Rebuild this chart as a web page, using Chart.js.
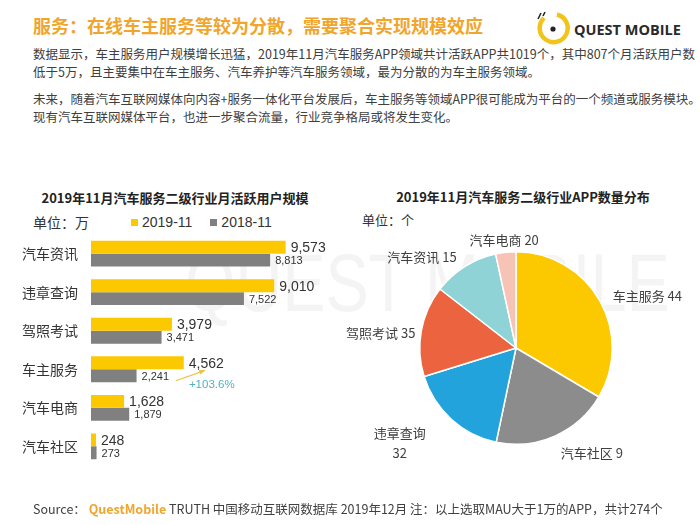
<!DOCTYPE html>
<html>
<head>
<meta charset="utf-8">
<script src="https://cdn.jsdelivr.net/npm/chart.js@4.4.0/dist/chart.umd.min.js"></script>
<style>
  body { margin: 0; background: #fff; }
  #page { position: relative; width: 700px; height: 525px; overflow: hidden; font-family: "Noto Sans CJK SC", sans-serif; color: #333; }
  .abs { position: absolute; white-space: nowrap; line-height: 1; }
  .para { position: absolute; left: 33px; font-size: 12.5px; line-height: 18px; color: #404040; white-space: nowrap; }
  .ctitle { position: absolute; font-size: 13px; font-weight: bold; color: #222; transform: translateX(-50%); white-space: nowrap; line-height: 1; }
  canvas { position: absolute; }
</style>
</head>
<body>
<div id="page">
  <!-- faint watermark -->
  <div class="abs" style="left:185px;top:242px;font-family:'Liberation Sans';font-size:82px;color:#f4f4f4;transform:scaleX(0.79);transform-origin:left top;">QUEST MOBILE</div>

  <div class="abs" style="left:33px;top:16px;font-size:18px;font-weight:bold;color:#f0a52c;">服务：在线车主服务等较为分散，需要聚合实现规模效应</div>

  <svg class="abs" style="left:535px;top:10px" width="36" height="36" viewBox="0 0 36 36">
    <path d="M 9 8 A 14 14 0 1 0 22 4.5" fill="none" stroke="#f2c31a" stroke-width="4.5"/>
    <circle cx="18" cy="19" r="2.6" fill="#222"/>
    <line x1="3" y1="9" x2="6" y2="3" stroke="#222" stroke-width="1.6"/>
    <line x1="8" y1="6" x2="10" y2="2" stroke="#222" stroke-width="1.6"/>
  </svg>
  <div class="abs" style="left:574px;top:23px;font-family:'Open Sans';font-size:14.5px;font-weight:bold;color:#2a2a2a;">QUEST MOBILE</div>

  <div class="para" style="top:45px;">数据显示，车主服务用户规模增长迅猛，2019年11月汽车服务APP领域共计活跃APP共1019个，其中807个月活跃用户数<br>低于5万，且主要集中在车主服务、汽车养护等汽车服务领域，最为分散的为车主服务领域。</div>
  <div class="para" style="top:90px;">未来，随着汽车互联网媒体向内容+服务一体化平台发展后，车主服务等领域APP很可能成为平台的一个频道或服务模块。<br>现有汽车互联网媒体平台，也进一步聚合流量，行业竞争格局或将发生变化。</div>

  <div class="ctitle" style="left:175px;top:191px;">2019年11月汽车服务二级行业月活跃用户规模</div>
  <div class="abs" style="left:33px;top:215px;font-size:14px;color:#333;">单位：万</div>
  <div id="barLegend" class="abs" style="left:131px;top:215px;font-family:'Liberation Sans';font-size:14px;color:#333;"></div>

  <div class="ctitle" style="left:523px;top:190px;">2019年11月汽车服务二级行业APP数量分布</div>
  <div class="abs" style="left:362px;top:213px;font-size:13px;color:#333;">单位：个</div>

  <canvas id="barChart" width="350" height="248" style="left:0;top:226px;"></canvas>
  <canvas id="pieChart" width="370" height="300" style="left:330px;top:200px;"></canvas>

  <div class="abs" style="left:33px;top:503px;font-size:12.5px;color:#404040;">Source： <b style="color:#f0a52c;">QuestMobile</b> TRUTH 中国移动互联网数据库 2019年12月 注：以上选取MAU大于1万的APP，共计274个</div>
</div>

<script>
// ---- bar chart data (unit: 万) ----
const barCategories = ['汽车资讯', '违章查询', '驾照考试', '车主服务', '汽车电商', '汽车社区'];
const mau2019 = [9573, 9010, 3979, 4562, 1628, 248];
const mau2018 = [8813, 7522, 3471, 2241, 1879, 273];
const seriesNames = ['2019-11', '2018-11'];
const growthCategory = '车主服务';
const growthText = '+103.6%';

// ---- pie chart data ----
const pieCategories = ['车主服务', '汽车社区', '违章查询', '驾照考试', '汽车资讯', '汽车电商'];
const pieLabelCounts = [44, 9, 32, 35, 15, 20];      // numbers printed next to slices
const pieShares = [33.5, 19.8, 16.9, 15.3, 11.1, 3.4]; // slice sizes as drawn (%)

const barColors = ['#fcc800', '#808080'];
const pieColors = ['#fcc800', '#8c8c8c', '#22a3dc', '#ec643f', '#8fd3d6', '#f7c3b4'];
const cjk = '"Noto Sans CJK SC", sans-serif';
const num = '"Liberation Sans", "Noto Sans CJK SC", sans-serif';

// legend for bars
const legend = document.getElementById('barLegend');
seriesNames.forEach((name, i) => {
  const sw = document.createElement('span');
  sw.style.cssText = 'display:inline-block;width:7px;height:7px;margin-right:4px;vertical-align:1px;background:' + barColors[i];
  legend.appendChild(sw);
  const t = document.createElement('span');
  t.textContent = name;
  t.style.marginRight = i === 0 ? '18px' : '0';
  legend.appendChild(t);
});

const barLabels = {
  id: 'barLabels',
  afterDatasetsDraw(chart) {
    const ctx = chart.ctx;
    ctx.save();
    ctx.textBaseline = 'middle';
    ctx.textAlign = 'left';
    ctx.fillStyle = '#333';
    chart.data.datasets.forEach((ds, di) => {
      const meta = chart.getDatasetMeta(di);
      ctx.font = (di === 0 ? '14px ' : '11px ') + num;
      meta.data.forEach((bar, i) => {
        ctx.fillText(ds.data[i].toLocaleString('en-US'), bar.x + 5, bar.y + 1);
      });
    });
    // growth arrow
    const gi = barCategories.indexOf(growthCategory);
    const yb = chart.getDatasetMeta(0).data[gi];
    const gb = chart.getDatasetMeta(1).data[gi];
    const x1 = yb.x - 8, y1 = gb.y + 5, x2 = yb.x + 20, y2 = yb.y + 8;
    ctx.strokeStyle = '#e8c44c';
    ctx.fillStyle = '#e8c44c';
    ctx.lineWidth = 1.2;
    ctx.beginPath(); ctx.moveTo(x1, y1); ctx.lineTo(x2, y2); ctx.stroke();
    const a = Math.atan2(y2 - y1, x2 - x1);
    ctx.beginPath();
    ctx.moveTo(x2 + 2, y2 - 0.7);
    ctx.lineTo(x2 - 5 * Math.cos(a - 0.5), y2 - 5 * Math.sin(a - 0.5));
    ctx.lineTo(x2 - 5 * Math.cos(a + 0.5), y2 - 5 * Math.sin(a + 0.5));
    ctx.closePath(); ctx.fill();
    ctx.fillStyle = '#4fb2c4';
    ctx.font = '11.5px ' + num;
    ctx.textAlign = 'center';
    ctx.fillText(growthText, yb.x + 28, gb.y + 9);
    ctx.restore();
  }
};

new Chart(document.getElementById('barChart'), {
  type: 'bar',
  data: {
    labels: barCategories,
    datasets: [
      { label: seriesNames[0], data: mau2019, backgroundColor: barColors[0], categoryPercentage: 0.67, barPercentage: 1 },
      { label: seriesNames[1], data: mau2018, backgroundColor: barColors[1], categoryPercentage: 0.67, barPercentage: 1 }
    ]
  },
  options: {
    indexAxis: 'y',
    responsive: false,
    animation: false,
    layout: { padding: { left: 0, right: 15, top: 0, bottom: 0 } },
    plugins: { legend: { display: false }, tooltip: { enabled: false } },
    scales: {
      x: { display: false, min: 0, max: 12000 },
      y: {
        grid: { display: false, drawTicks: true, tickLength: 13 },
        border: { display: false },
        ticks: { padding: 0, color: '#333', font: { size: 14, family: cjk } },
        afterFit(s) { s.width = 91; }
      }
    }
  },
  plugins: [barLabels]
});

const pieLabels = {
  id: 'pieLabels',
  afterDatasetsDraw(chart) {
    const ctx = chart.ctx;
    ctx.save();
    ctx.fillStyle = '#404040';
    ctx.font = '13px ' + cjk;
    ctx.textBaseline = 'middle';
    chart.getDatasetMeta(0).data.forEach((arc, i) => {
      const mid = (arc.startAngle + arc.endAngle) / 2;
      const c = Math.cos(mid), s = Math.sin(mid);
      const name = pieCategories[i], n = String(pieLabelCounts[i]);
      if (c < -0.3 && s > 0.5) {
        // lower left label on two lines
        const r = arc.outerRadius + 32;
        const x = arc.x + c * r - 4, y = arc.y + s * r;
        const w = ctx.measureText(name).width;
        ctx.textAlign = 'right';
        ctx.fillText(name, x, y - 10);
        ctx.textAlign = 'center';
        ctx.fillText(n, x - w / 2, y + 10);
        return;
      }
      const r = arc.outerRadius + (Math.abs(s) < 0.3 ? 6 : 15);
      const x = arc.x + c * r, y = arc.y + s * r + 3;
      ctx.textAlign = c > 0.3 ? 'left' : (c < -0.3 ? 'right' : 'center');
      ctx.fillText(name + ' ' + n, x, y);
    });
    ctx.restore();
  }
};

new Chart(document.getElementById('pieChart'), {
  type: 'pie',
  data: {
    labels: pieCategories,
    datasets: [{ data: pieShares, backgroundColor: pieColors, borderColor: '#fff', borderWidth: 1.5 }]
  },
  options: {
    responsive: false,
    animation: false,
    layout: { padding: { left: 89, right: 87, top: 51, bottom: 55 } },
    plugins: { legend: { display: false }, tooltip: { enabled: false } }
  },
  plugins: [pieLabels]
});
</script>
</body>
</html>
